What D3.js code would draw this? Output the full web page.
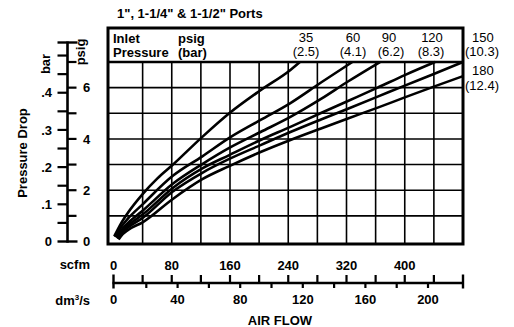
<!DOCTYPE html>
<html><head><meta charset="utf-8">
<script src="https://cdn.jsdelivr.net/npm/d3@7"></script>
<style>body{margin:0;background:#fff}svg{display:block}text{font-family:"Liberation Sans",Arial,Helvetica,sans-serif;fill:#000}</style>
</head><body><svg id="c" width="514" height="327"></svg>
<script>
// ---- data ----
const inletPsig = ["35", "60", "90", "120", "150", "180"];
const inletBar = ["(2.5)", "(4.1)", "(6.2)", "(8.3)", "(10.3)", "(12.4)"];
const scfmLabels = [0, 80, 160, 240, 320, 400];
const scfmTicks = [40, 80, 120, 160, 200, 240, 280, 320, 360, 400, 440];
const dmLabels = [0, 40, 80, 120, 160, 200];
const dmTicks = [20, 40, 60, 80, 100, 120, 140, 160, 180, 200];
const barLabels = [0, 0.1, 0.2, 0.3, 0.4];
const barTicks = [0.05, 0.1, 0.15, 0.2, 0.25, 0.3, 0.35, 0.4, 0.45, 0.5];
const psigLabels = [0, 2, 4, 6];
const psigTicks = [1, 2, 3, 4, 5, 6, 7];
const gridPsig = [1, 2, 3, 4, 5, 6];

const flow35  = [1, 10, 20, 40, 60, 81, 122, 159, 202, 243, 256];
const drop35  = [0.2, 0.69, 1.13, 1.85, 2.45, 2.98, 4.08, 5.0, 5.9, 6.69, 7.0];
const flow60  = [2, 10, 20, 40, 81, 122, 159, 202, 243, 285, 328];
const drop60  = [0.18, 0.55, 0.9, 1.45, 2.55, 3.32, 4.04, 4.74, 5.4, 6.2, 7.0];
const flow90  = [4, 10, 20, 40, 81, 122, 159, 202, 243, 285, 322, 366];
const drop90  = [0.15, 0.42, 0.72, 1.2, 2.24, 3.02, 3.65, 4.27, 4.86, 5.56, 6.24, 7.0];
const flow120 = [5, 10, 20, 40, 81, 122, 159, 202, 243, 285, 322, 362, 400, 441.6];
const drop120 = [0.12, 0.35, 0.63, 1.05, 2.08, 2.85, 3.37, 3.96, 4.47, 5.01, 5.48, 5.99, 6.49, 7.0];
const flow150 = [6, 10, 20, 40, 81, 122, 159, 202, 243, 285, 322, 362, 400, 439, 480];
const drop150 = [0.1, 0.28, 0.55, 0.92, 1.94, 2.68, 3.22, 3.76, 4.27, 4.76, 5.18, 5.64, 6.08, 6.52, 7.0];
const flow180 = [7, 10, 20, 40, 81, 122, 159, 202, 243, 285, 322, 362, 400, 439, 480];
const drop180 = [0.08, 0.2, 0.45, 0.75, 1.65, 2.43, 2.94, 3.49, 3.96, 4.41, 4.80, 5.21, 5.62, 6.03, 6.45];

const series = [
  [flow35, drop35], [flow60, drop60], [flow90, drop90],
  [flow120, drop120], [flow150, drop150], [flow180, drop180]
];

// ---- scales ----
const PSI_PER_BAR = 14.5038;
const x = d3.scaleLinear().domain([0, 480]).range([113.5, 463]);
const xDm = d3.scaleLinear().domain([0, 200]).range([115, 428]);
const y = d3.scaleLinear().domain([0, 7]).range([241.5, 62]);
const yBar = d3.scaleLinear().domain([0, 7 / PSI_PER_BAR]).range([241.5, 62]);

const svg = d3.select("#c");

// title
svg.append("text").attr("x", 117).attr("y", 18).attr("font-size", 13)
  .attr("font-weight", "bold").text('1", 1-1/4" & 1-1/2" Ports');

// frame
const fx0 = 108, fx1 = 463, fy0 = 28, fy1 = 244;
const g = svg.append("g");
g.selectAll("line.v").data(scfmTicks).join("line")
  .attr("x1", d => x(d)).attr("x2", d => x(d))
  .attr("y1", y(7)).attr("y2", fy1)
  .attr("stroke", "#000").attr("stroke-width", 1.6);
g.selectAll("line.h").data(gridPsig).join("line")
  .attr("x1", fx0).attr("x2", fx1)
  .attr("y1", d => y(d)).attr("y2", d => y(d))
  .attr("stroke", "#000").attr("stroke-width", 1.6);
g.append("line").attr("x1", fx0).attr("x2", fx1).attr("y1", y(7)).attr("y2", y(7))
  .attr("stroke", "#000").attr("stroke-width", 2.4);
g.append("rect").attr("x", fx0).attr("y", fy0).attr("width", fx1 - fx0).attr("height", fy1 - fy0)
  .attr("fill", "none").attr("stroke", "#000").attr("stroke-width", 3);

// curves
const line = d3.line().x(d => x(d[0])).y(d => y(d[1])).curve(d3.curveMonotoneX);
svg.append("g").selectAll("path").data(series).join("path")
  .attr("d", s => line(s[0].map((f, i) => [f, s[1][i]])))
  .attr("fill", "none").attr("stroke", "#000").attr("stroke-width", 2.6)
  .attr("stroke-linecap", "butt");

// header text
const hdr = svg.append("g").attr("font-size", 13);
hdr.append("text").attr("x", 113).attr("y", 43).attr("font-weight", "bold").text("Inlet");
hdr.append("text").attr("x", 113).attr("y", 57).attr("font-weight", "bold").text("Pressure");
hdr.append("text").attr("x", 178).attr("y", 43).attr("font-weight", "bold").text("psig");
hdr.append("text").attr("x", 178).attr("y", 57).attr("font-weight", "bold").text("(bar)");
const inPos = [[306, 42, 306, 56, "middle"], [353, 42, 353, 56, "middle"], [389, 42, 391, 56, "middle"],
  [432, 42, 431, 56, "middle"], [472, 42, 465, 56, "start"], [472, 75, 465, 90, "start"]];
inletPsig.forEach((t, i) => {
  const p = inPos[i];
  hdr.append("text").attr("x", p[0]).attr("y", p[1]).attr("text-anchor", p[4]).text(t);
  hdr.append("text").attr("x", p[2]).attr("y", p[3]).attr("text-anchor", p[4]).text(inletBar[i]);
});

// left axis
const ax = 67.5;
const la = svg.append("g").attr("stroke", "#000");
la.append("line").attr("x1", ax).attr("x2", ax).attr("y1", 41.5).attr("y2", y(0) + 1.2).attr("stroke-width", 2.6);
la.append("line").attr("x1", ax - 10).attr("x2", ax + 10).attr("y1", 42.5).attr("y2", 42.5).attr("stroke-width", 2.4);
la.append("line").attr("x1", ax - 10).attr("x2", ax + 10).attr("y1", y(0)).attr("y2", y(0)).attr("stroke-width", 2.4);
la.selectAll("line.b").data(barTicks).join("line")
  .attr("x1", ax - 10).attr("x2", ax).attr("y1", d => yBar(d)).attr("y2", d => yBar(d)).attr("stroke-width", 2.2);
la.selectAll("line.p").data(psigTicks).join("line")
  .attr("x1", ax).attr("x2", ax + 9).attr("y1", d => y(d)).attr("y2", d => y(d)).attr("stroke-width", 2.2);
const lt = svg.append("g").attr("font-size", 13).attr("font-weight", "bold");
lt.selectAll("text.b").data(barLabels).join("text")
  .attr("x", 52).attr("y", d => yBar(d)).attr("dy", "0.36em").attr("text-anchor", "end")
  .text(d => d === 0 ? "0" : d3.format(".1f")(d).replace(/^0/, ""));
lt.selectAll("text.p").data(psigLabels).join("text")
  .attr("x", 83).attr("y", d => y(d)).attr("dy", "0.36em").text(d => d);
lt.append("text").attr("transform", "translate(50,64) rotate(-90)").attr("text-anchor", "middle").text("bar");
lt.append("text").attr("transform", "translate(84.5,52) rotate(-90)").attr("text-anchor", "middle").text("psig");
lt.append("text").attr("transform", "translate(27,153) rotate(-90)").attr("text-anchor", "middle").text("Pressure Drop");

// bottom axis
const by = 283;
const ba = svg.append("g").attr("stroke", "#000");
ba.append("line").attr("x1", x(0) - 1).attr("x2", x(480) + 1).attr("y1", by).attr("y2", by).attr("stroke-width", 2.6);
[0, 480].forEach(v => ba.append("line").attr("x1", x(v)).attr("x2", x(v)).attr("y1", by - 8.5).attr("y2", by + 5.5).attr("stroke-width", 2.4));
ba.selectAll("line.s").data(scfmTicks).join("line")
  .attr("x1", d => x(d)).attr("x2", d => x(d)).attr("y1", by - 8).attr("y2", by).attr("stroke-width", 2.2);
ba.selectAll("line.d").data(dmTicks).join("line")
  .attr("x1", d => xDm(d)).attr("x2", d => xDm(d)).attr("y1", by).attr("y2", by + 5).attr("stroke-width", 2.2);
const bt = svg.append("g").attr("font-size", 13).attr("font-weight", "bold").attr("text-anchor", "middle");
bt.selectAll("text.s").data(scfmLabels).join("text")
  .attr("x", d => x(d)).attr("y", 269.5).text(d => d);
bt.selectAll("text.d").data(dmLabels).join("text")
  .attr("x", d => d === 0 ? x(0) : xDm(d)).attr("y", 304).text(d => d);
bt.append("text").attr("x", 90).attr("y", 269).attr("text-anchor", "end").text("scfm");
const dm = bt.append("text").attr("x", 90).attr("y", 305).attr("text-anchor", "end");
dm.append("tspan").text("dm");
dm.append("tspan").attr("font-size", 8).attr("dy", -5).text("3");
dm.append("tspan").attr("dy", 5).text("/s");
bt.append("text").attr("x", 280).attr("y", 325).text("AIR FLOW");
</script></body></html>
